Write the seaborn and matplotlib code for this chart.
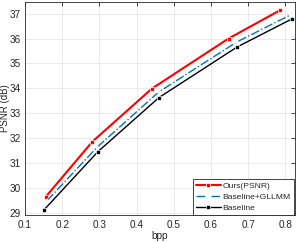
import matplotlib
matplotlib.use("Agg")
import matplotlib.pyplot as plt
import seaborn as sns
import pandas as pd

ours_bpp = [0.156, 0.281, 0.441, 0.647, 0.786]
ours_psnr = [29.65, 31.86, 33.99, 36.00, 37.14]
gllmm_bpp = [0.159, 0.294, 0.459, 0.669, 0.819]
gllmm_psnr = [29.49, 31.64, 33.85, 35.86, 36.99]
base_bpp = [0.151, 0.296, 0.460, 0.670, 0.819]
base_psnr = [29.12, 31.46, 33.63, 35.66, 36.80]

xticks = [0.1, 0.2, 0.3, 0.4, 0.5, 0.6, 0.7, 0.8]
yticks = [29, 30, 31, 32, 33, 34, 35, 36, 37]

sns.set_style("white")
plt.rcParams['font.family'] = ['Liberation Sans', 'DejaVu Sans']

fig = plt.figure(figsize=(2.98, 2.42), dpi=100)
ax = fig.add_axes([0.084, 0.110, 0.905, 0.883])

df1 = pd.DataFrame({'bpp': ours_bpp, 'psnr': ours_psnr})
df2 = pd.DataFrame({'bpp': gllmm_bpp, 'psnr': gllmm_psnr})
df3 = pd.DataFrame({'bpp': base_bpp, 'psnr': base_psnr})

sns.lineplot(data=df1, x='bpp', y='psnr', ax=ax, color='#ff0000', lw=1.5,
             marker='s', markersize=2.5, markeredgewidth=0.5, label='Ours(PSNR)')
sns.lineplot(data=df2, x='bpp', y='psnr', ax=ax, color='#0072bd', lw=1.0,
             linestyle='-.', marker='+', markersize=4, markeredgewidth=1.0,
             label='Baseline+GLLMM')
sns.lineplot(data=df3, x='bpp', y='psnr', ax=ax, color='black', lw=1.0,
             marker='s', markersize=2.2, markeredgewidth=0.5, label='Baseline')

ax.set_xlim(0.1, 0.825)
ax.set_ylim(28.9, 37.48)
ax.set_xticks(xticks)
ax.set_xticklabels([str(t) for t in xticks])
ax.set_yticks(yticks)
ax.grid(True, color='#e6e6e6', lw=0.6)
ax.tick_params(direction='in', length=3, width=0.6, labelsize=7.2,
               colors='#262626', top=True, right=True, pad=3)
for s in ax.spines.values():
    s.set_color('#262626')
    s.set_linewidth(0.6)
ax.set_xlabel('bpp', fontsize=7.2, color='#262626', labelpad=1)
ax.set_ylabel('PSNR (dB)', fontsize=7.0, color='#262626')
ax.yaxis.set_label_coords(-0.054, 0.5)

leg = ax.legend(loc='lower right', fontsize=6.1, frameon=True, fancybox=False,
                edgecolor='#262626', framealpha=1, handlelength=3.0,
                borderaxespad=0.1, borderpad=0.35, labelspacing=0.35,
                handletextpad=0.2)
leg.get_frame().set_linewidth(0.6)

fig.savefig('out.png', dpi=100)
